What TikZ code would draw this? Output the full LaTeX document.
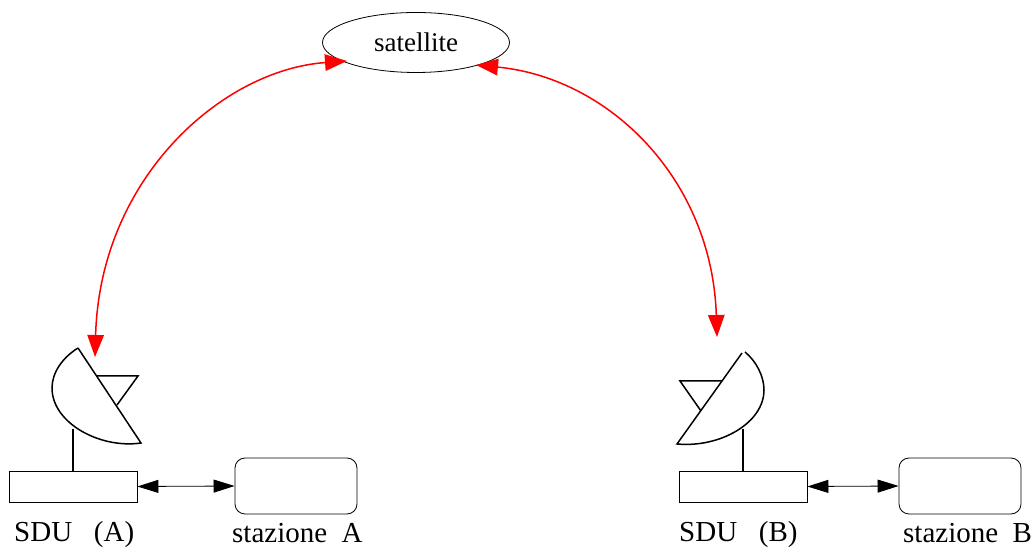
\documentclass[tikz,border=0pt]{standalone}
\usepackage{fontspec}
\setmainfont{Liberation Serif}
\usetikzlibrary{arrows.meta}
\usetikzlibrary{shapes.geometric}
\newcommand{\sduw}{128}
\newcommand{\sduh}{31}
\newcommand{\stw}{122}
\newcommand{\sth}{56}
\newcommand{\satsize}{\fontsize{27}{30}\selectfont}
\newcommand{\lblsize}{\fontsize{29}{32}\selectfont}
\tikzset{
  sdubox/.style={draw, line width=0.8pt, minimum width=\sduw pt, minimum height=\sduh pt, inner sep=0pt},
  stbox/.style={draw, line width=0.8pt, rounded corners=10pt, minimum width=\stw pt, minimum height=\sth pt, inner sep=0pt},
  satnode/.style={draw, ellipse, line width=0.8pt, minimum width=187pt, minimum height=60pt, inner sep=0pt},
  lbl/.style={anchor=base west, inner sep=0pt, font=\lblsize},
  dishline/.style={line width=1.5pt},
  redlink/.style={red, line width=1.5pt, {Triangle[length=22pt, width=16.5pt]}-{Triangle[length=22pt, width=16.5pt]}},
  wirelink/.style={black, line width=0.8pt, {Triangle[length=21pt, width=13pt]}-{Triangle[length=21pt, width=13pt]}}
}

\begin{document}
\begin{tikzpicture}[x=1pt, y=1pt]

    \useasboundingbox (0,0) rectangle (1033,548);

    \node [satnode, font=\satsize] (sat) at (416,505.5) {satellite};

    \node [sdubox] (sdua) at (73,61.5) {};
    \node [sdubox] (sdub) at (743,61.5) {};
    \node [stbox] (staa) at (296,62) {};
    \node [stbox] (stab) at (960,62) {};

    \node [lbl] (lbla) at (14,6.5) {SDU\ \ \ (A)};
    \node [lbl] (lblb) at (679,6.5) {SDU\ \ \ (B)};
    \node [lbl] (lblc) at (232,5) {stazione\ \ A};
    \node [lbl] (lbld) at (903,5) {stazione\ \ B};

    % dish A
    \draw [dishline] (78,200) -- (141,105)
      .. controls (100,99) and (52,125) .. (52,160)
      .. controls (52,175) and (62,190) .. (78,200);
    \draw [dishline] (96,172) -- (138,172) -- (117,143);
    \coordinate (masta) at (73,119);
    \draw [dishline] (masta) -- (sdua.north);

    % dish B
    \draw [dishline] (742,195) -- (677,104)
      .. controls (720,100) and (764,125) .. (764,158)
      .. controls (764,172) and (756,187) .. (745,196);
    \draw [dishline] (722,167) -- (680,167) -- (701,137);
    \coordinate (mastb) at (743,119);
    \draw [dishline] (mastb) -- (sdub.north);

    \draw [wirelink] (sdua.east) -- (staa.west);
    \draw [wirelink] (sdub.east) -- (stab.west);

    % radio links
    \coordinate (sata) at (347,487);
    \coordinate (satb) at (476,483);
    \coordinate (anta) at (95,191);
    \coordinate (antb) at (717,211);
    \draw [redlink] (sata) .. controls (222,478) and (100,370) .. (anta);
    \draw [redlink] (satb) .. controls (610,470) and (712,368) .. (antb);

\end{tikzpicture}
\end{document}
